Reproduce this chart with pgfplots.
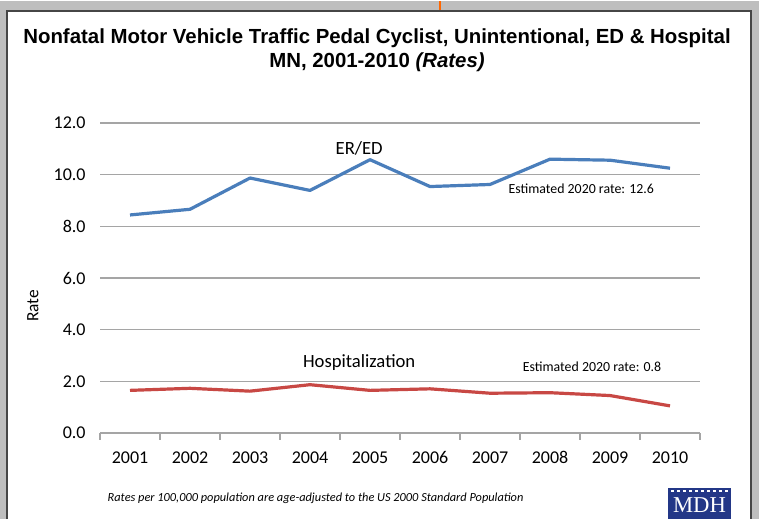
\documentclass[border=0pt]{standalone}
\usepackage{pgfplots}
\pgfplotsset{compat=1.18}
\usepackage{fontspec}
\setmainfont{Carlito}
\newfontfamily\titlefont{Liberation Sans}
\newfontfamily\seriffont{Liberation Serif}
\definecolor{erblue}{RGB}{74,126,187}
\definecolor{hosred}{RGB}{200,72,68}
\definecolor{gridgray}{RGB}{165,165,165}
\definecolor{mdhblue}{RGB}{35,55,135}
\definecolor{bggray}{RGB}{190,190,190}
\definecolor{framegray}{RGB}{70,70,70}
\begin{document}
\begin{tikzpicture}
\begin{scope}[x=0.75pt,y=-0.75pt]
  \fill[bggray] (0,0) rectangle (759,518);
  \draw[orange!80!red, line width=1.5pt] (440,0) -- (440,12);
  \fill[white] (7,10) rectangle (751,518);
  \draw[framegray, line width=1.2pt] (7,518) -- (7,10) -- (751,10) -- (751,518);
  \node[font=\titlefont\bfseries\fontsize{15.3}{18}\selectfont] at (377,37)
    {Nonfatal Motor Vehicle Traffic Pedal Cyclist, Unintentional, ED \& Hospital};
  \node[font=\titlefont\bfseries\fontsize{15.3}{18}\selectfont] at (377,61)
    {MN, 2001-2010 \textit{(Rates)}};
  \node[rotate=90, font=\fontsize{13}{15}\selectfont] at (33,305) {Rate};
  \node[anchor=west, font=\itshape\fontsize{9.25}{11}\selectfont] at (103,497)
    {Rates per 100,000 population are age-adjusted to the US 2000 Standard Population};
  % MDH logo
  \fill[mdhblue] (668,487) rectangle (731,518);
  \foreach \i in {0,...,9} {\fill[white] (671+\i*6,489) rectangle (674+\i*6,491);}
  \node[text=white, font=\seriffont\fontsize{17}{18}\selectfont] at (699.5,504) {MDH};
\end{scope}
\begin{axis}[
  at={(75pt,-324pt)}, anchor=south west,
  scale only axis, width=450pt, height=232.5pt,
  clip=false,
  xmin=2000.5, xmax=2010.5, ymin=0, ymax=12,
  xtick={2001,2002,2003,2004,2005,2006,2007,2008,2009,2010},
  xticklabels={2001,2002,2003,2004,2005,2006,2007,2008,2009,2010},
  minor xtick={2000.5,2001.5,2002.5,2003.5,2004.5,2005.5,2006.5,2007.5,2008.5,2009.5,2010.5},
  ytick={0,2,4,6,8,10,12},
  y tick label style={/pgf/number format/fixed, /pgf/number format/fixed zerofill, /pgf/number format/precision=1},
  /pgf/number format/assume math mode=true,
  tick label style={font=\fontsize{13.5}{16}\selectfont},
  xticklabel style={yshift=-6pt},
  yticklabel style={xshift=-3pt},
  axis lines*=left,
  y axis line style={draw=none},
  x axis line style={gridgray, line width=0.8pt},
  ytick style={draw=none},
  major x tick style={draw=none},
  minor x tick style={gridgray, line width=0.8pt},
  minor tick length=5pt,
  tick align=outside,
  ymajorgrids,
  grid style={gridgray, line width=0.8pt},
]
\addplot[erblue, line width=2.4pt, line join=round] coordinates {
  (2001,8.44) (2002,8.66) (2003,9.87) (2004,9.39) (2005,10.58)
  (2006,9.54) (2007,9.62) (2008,10.60) (2009,10.56) (2010,10.25)};
\addplot[hosred, line width=2.4pt, line join=round] coordinates {
  (2001,1.65) (2002,1.73) (2003,1.62) (2004,1.87) (2005,1.65)
  (2006,1.71) (2007,1.54) (2008,1.56) (2009,1.45) (2010,1.05)};
\node[font=\fontsize{14}{16}\selectfont] at (axis cs:2004.82,11.03) {ER/ED};
\node[font=\fontsize{14}{16}\selectfont] at (axis cs:2004.82,2.71) {Hospitalization};
\node[font=\fontsize{10.4}{13}\selectfont] at (axis cs:2008.52,9.45) {Estimated 2020 rate: 12.6};
\node[font=\fontsize{10.4}{13}\selectfont] at (axis cs:2008.70,2.56) {Estimated 2020 rate: 0.8};
\end{axis}
\end{tikzpicture}
\end{document}
